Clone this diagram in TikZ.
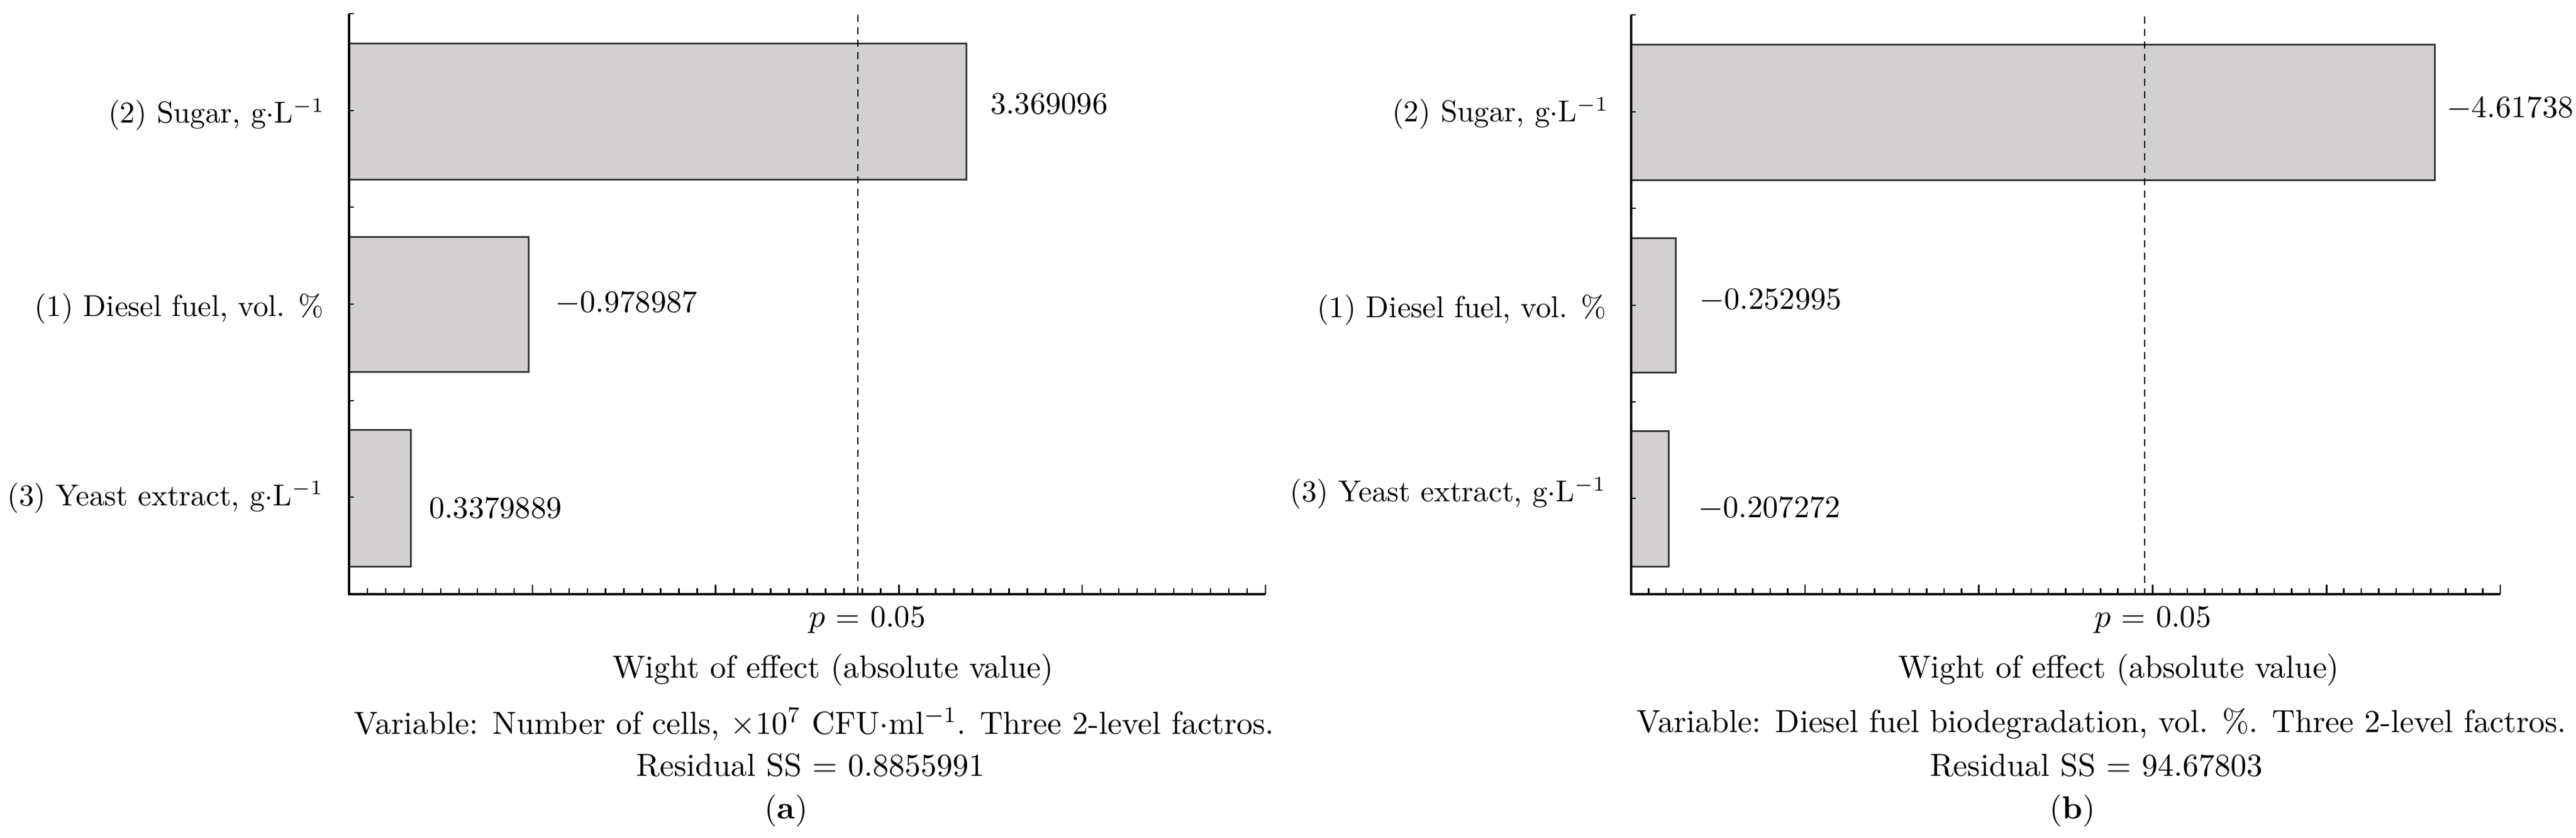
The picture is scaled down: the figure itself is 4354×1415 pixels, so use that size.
\documentclass[tikz,border=0pt]{standalone}
\usepackage{tikz}
\definecolor{barfill}{RGB}{211,208,209}
\definecolor{barline}{RGB}{55,55,55}
\begin{document}
\begin{tikzpicture}[x=0.2pt,y=-0.2pt,
  txt/.style={inner sep=0pt,font=\fontsize{10.2}{12}\selectfont},
  valtxt/.style={inner sep=0pt,font=\fontsize{10.5}{12}\selectfont},
  bottxt/.style={inner sep=0pt,font=\fontsize{10.8}{12}\selectfont},
  bar/.style={fill=barfill,draw=barline,line width=0.6pt},
  axisline/.style={line width=0.7pt,black},
  tickline/.style={line width=0.5pt,black},
  pline/.style={line width=0.45pt,dash pattern=on 2.4pt off 1.8pt}]
\useasboundingbox (0,0) rectangle (4354,1415);
\fill[white] (0,0) rectangle (4354,1415);

% ---------------- Panel (a) ----------------
\coordinate (aO) at (590,1004);
\coordinate (aT) at (590,23);
\coordinate (aR) at (2139,1004);
\draw[bar] (590,73) rectangle (1633,303);
\draw[bar] (590,400) rectangle (893,628);
\draw[bar] (590,726) rectangle (694,957);
\draw[pline] (1450,25) -- (1450,1004);
\draw[axisline] (aT) -- (aO) -- (aR);
\foreach \yy in {23,187,350,514,677,840}
  \draw[tickline] (590,\yy) -- ++(8,0);
\foreach \i in {1,...,50}{
  \pgfmathsetmacro{\xx}{590+\i*30.98}
  \pgfmathsetmacro{\tl}{mod(\i,10)==0 ? 16 : 10}
  \draw[tickline] (\xx,1004) -- ++(0,-\tl);
}
\node[txt,anchor=east] (a2) at (550,194) {(2) Sugar, g$\cdot$L$^{-1}$};
\node[txt,anchor=east] (a1) at (548,522) {(1) Diesel fuel, vol. \%};
\node[txt,anchor=east] (a3) at (548,840) {(3) Yeast extract, g$\cdot$L$^{-1}$};
\node[valtxt,anchor=west] (av2) at (1673,176) {3.369096};
\node[valtxt,anchor=west] (av1) at (937,512) {$-$0.978987};
\node[valtxt,anchor=west] (av3) at (724,858) {0.3379889};
\node[valtxt] (ap) at (1466,1047) {$p$ = 0.05};
\node[bottxt] (aw) at (1408,1132) {Wight of effect (absolute value)};
\node[bottxt] (avar) at (1376,1223) {Variable: Number of cells, $\times$10\textsuperscript{7} CFU$\cdot$ml\textsuperscript{$-$1}. Three 2-level factros.};
\node[bottxt] (ares) at (1370,1293) {Residual SS = 0.8855991};
\node[bottxt] (acap) at (1329,1370) {(\textbf{a})};

% ---------------- Panel (b) ----------------
\coordinate (bO) at (2757,1004);
\coordinate (bT) at (2757,25);
\coordinate (bR) at (4226,1004);
\draw[bar] (2757,75) rectangle (4115,304);
\draw[bar] (2757,402) rectangle (2832,629);
\draw[bar] (2757,728) rectangle (2820,957);
\draw[pline] (3625,28) -- (3625,1004);
\draw[axisline] (bT) -- (bO) -- (bR);
\foreach \yy in {25,189,352,516,679,842}
  \draw[tickline] (2757,\yy) -- ++(8,0);
\foreach \i in {1,...,50}{
  \pgfmathsetmacro{\xx}{2757+\i*29.38}
  \pgfmathsetmacro{\tl}{mod(\i,10)==0 ? 16 : 10}
  \draw[tickline] (\xx,1004) -- ++(0,-\tl);
}
\node[txt,anchor=east] (b2) at (2720,192) {(2) Sugar, g$\cdot$L$^{-1}$};
\node[txt,anchor=east] (b1) at (2716,524) {(1) Diesel fuel, vol. \%};
\node[txt,anchor=east] (b3) at (2716,834) {(3) Yeast extract, g$\cdot$L$^{-1}$};
\node[valtxt,anchor=west] (bv2) at (4134,183) {$-$4.61738};
\node[valtxt,anchor=west] (bv1) at (2871,507) {$-$0.252995};
\node[valtxt,anchor=west] (bv3) at (2869,859) {$-$0.207272};
\node[valtxt] (bp) at (3639,1047) {$p$ = 0.05};
\node[bottxt] (bw) at (3581,1132) {Wight of effect (absolute value)};
\node[bottxt] (bvar) at (3552,1223) {Variable: Diesel fuel biodegradation, vol. \%. Three 2-level factros.};
\node[bottxt] (bres) at (3543,1293) {Residual SS = 94.67803};
\node[bottxt] (bcap) at (3503,1370) {(\textbf{b})};
\end{tikzpicture}
\end{document}
